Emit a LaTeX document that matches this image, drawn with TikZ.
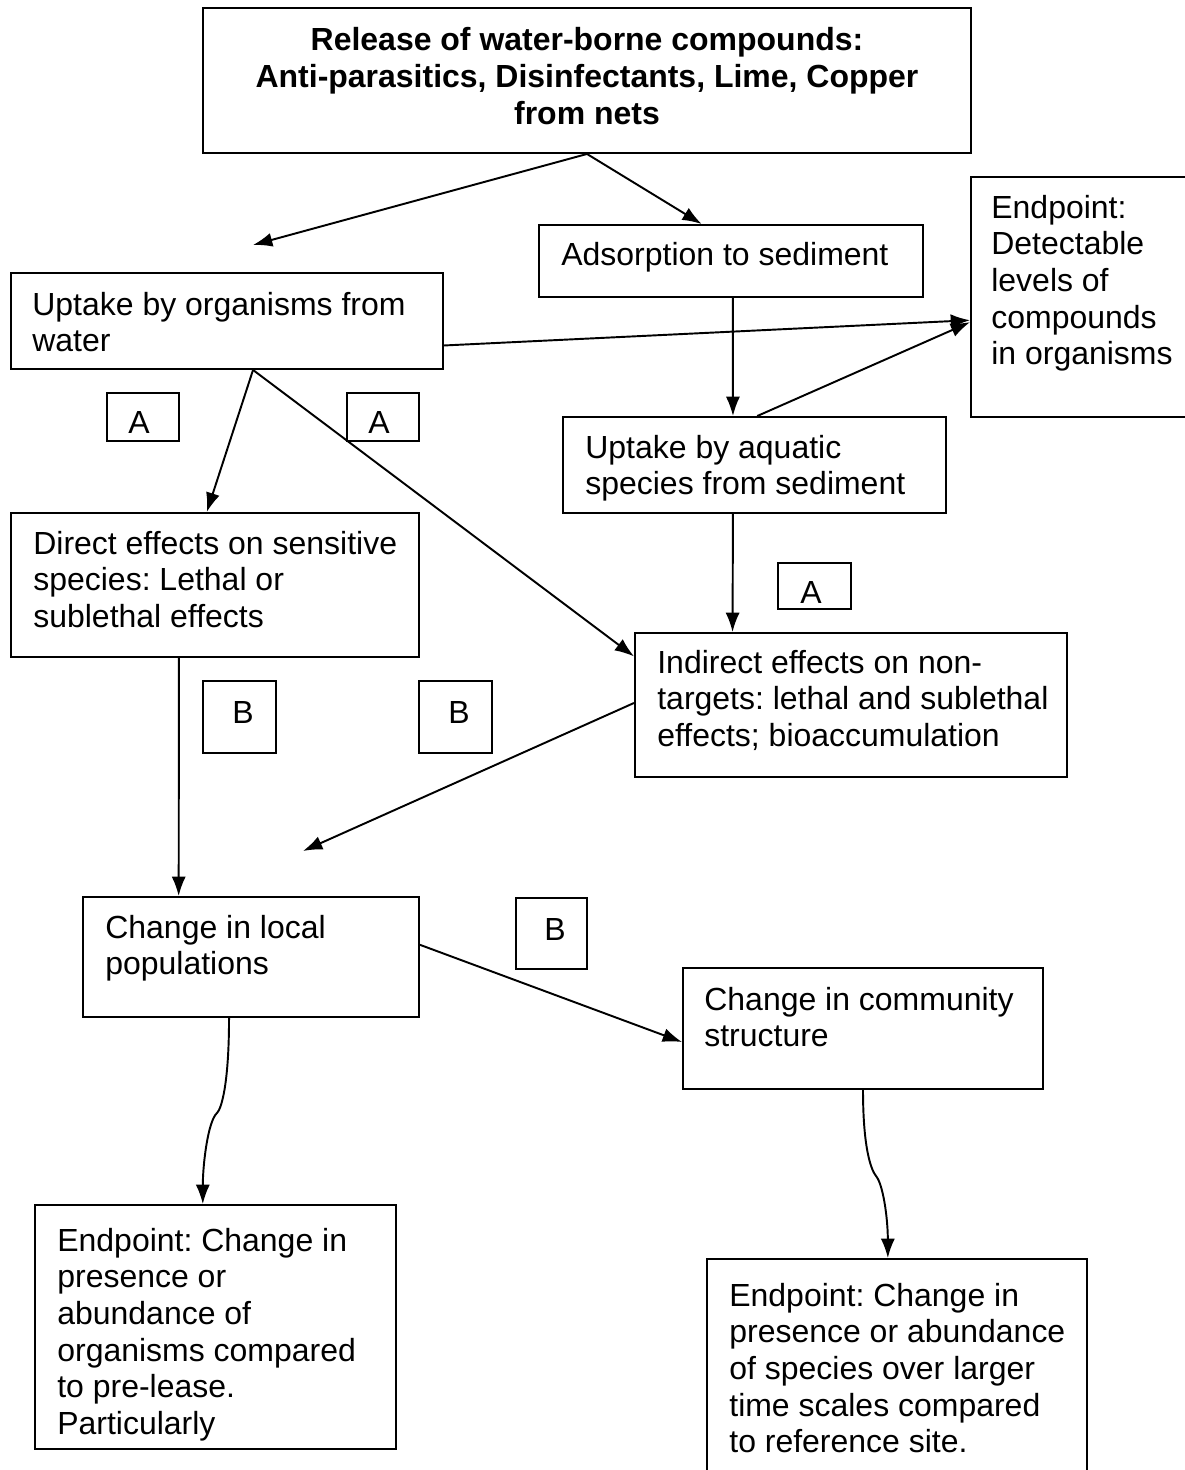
\documentclass[tikz,border=0pt]{standalone}
\usepackage{fontspec}
\setmainfont{Liberation Sans}
\usetikzlibrary{fit,calc,arrows.meta}
\frenchspacing
\newcommand{\lns}[1]{\begin{tabular}[t]{@{}l@{}}#1\end{tabular}}
\newcommand{\clns}[1]{\begin{tabular}[t]{@{}c@{}}#1\end{tabular}}
\begin{document}
\frenchspacing
\begin{tikzpicture}[x=0.02cm,y=-0.02cm,
  box/.style={draw, line width=1.1pt, inner sep=0pt, fit={#1}},
  txt/.style={anchor=base west, inner sep=0pt, font=\fontsize{18.2pt}{20.9pt}\selectfont},
  ctxt/.style={anchor=base, inner sep=0pt, font=\fontsize{18.2pt}{20.9pt}\selectfont\bfseries},
  lbl/.style={anchor=base, inner sep=0pt, font=\fontsize{18.2pt}{20.9pt}\selectfont},
  arr/.style={line width=1.1pt, -{Latex[length=11pt,width=8pt]}},
  line/.style={line width=1.1pt}]
\clip (0,0) rectangle (1185,1470);
\fill[white] (0,0) rectangle (1185,1470);

% boxes
\node[box={(203,8) (971,153)}] (title) {};
\node[box={(539,225) (923,297)}] (ads) {};
\node[box={(971,177) (1200,417)}] (epd) {};
\node[box={(11,273) (443,369)}] (uw) {};
\node[box={(107,393) (179,441)}] (a1) {};
\node[box={(347,393) (419,441)}] (a2) {};
\node[box={(563,417) (946,513)}] (aq) {};
\node[box={(11,513) (419,657)}] (de) {};
\node[box={(778,563) (851,609)}] (a3) {};
\node[box={(635,633) (1067,777)}] (ie) {};
\node[box={(203,681) (276,753)}] (b1) {};
\node[box={(419,681) (492,753)}] (b2) {};
\node[box={(83,897) (419,1017)}] (cl) {};
\node[box={(516,898) (587,969)}] (b3) {};
\node[box={(683,968) (1043,1089)}] (cc) {};
\node[box={(35,1205) (396,1449)}] (el) {};
\node[box={(707,1259) (1087,1500)}] (er) {};

% texts
\node[ctxt] (titlet) at (587,51) {\clns{Release of water-borne compounds:\\Anti-parasitics, Disinfectants, Lime, Copper\\from nets}};
\node[txt] (adst) at (561,265) {Adsorption to sediment};
\node[txt] (epdt) at (991,218) {\lns{Endpoint:\\Detectable\\levels of\\compounds\\in organisms}};
\node[txt] (uwt) at (32,315) {\lns{Uptake by organisms from\\water}};
\node[lbl] (a1t) at (139,433) {A};
\node[lbl] (a2t) at (379,433) {A};
\node[txt] (aqt) at (585,458) {\lns{Uptake by aquatic\\species from sediment}};
\node[txt] (det) at (33,554) {\lns{Direct effects on sensitive\\species: Lethal or\\sublethal effects}};
\node[lbl] (a3t) at (811,603) {A};
\node[txt] (iet) at (657,673) {\lns{Indirect effects on non-\\targets: lethal and sublethal\\effects; bioaccumulation}};
\node[lbl] (b1t) at (243,723) {B};
\node[lbl] (b2t) at (459,723) {B};
\node[txt] (clt) at (105,938) {\lns{Change in local\\populations}};
\node[lbl] (b3t) at (555,940) {B};
\node[txt] (cct) at (704,1010) {\lns{Change in community\\structure}};
\node[txt] (elt) at (57,1251) {\lns{Endpoint: Change in\\presence or\\abundance of\\organisms compared\\to pre-lease.\\Particularly}};
\node[txt] (ert) at (729,1306) {\lns{Endpoint: Change in\\presence or abundance\\of species over larger\\time scales compared\\to reference site.}};

% free ends and kinks
\coordinate (f1) at (253,245);
\coordinate (f2) at (303,851);
\coordinate (k1) at (217,1113);
\coordinate (k2) at (876,1176);

% connectors
\draw[arr] (title.south) -- (f1);
\draw[arr] (title.south) -- ($(ads.north west)!0.424!(ads.north east)$);
\draw[arr] ($(uw.north east)!0.75!(uw.south east)$) -- ($(epd.north west)!0.596!(epd.south west)$);
\draw[arr] ($(aq.north west)!0.507!(aq.north east)$) -- ($(epd.north west)!0.604!(epd.south west)$);
\draw[arr] ($(ads.south west)!0.505!(ads.south east)$) -- ($(aq.north west)!0.444!(aq.north east)$);
\draw[arr] ($(uw.south west)!0.56!(uw.south east)$) -- ($(de.north west)!0.48!(de.north east)$);
\draw[arr] ($(uw.south west)!0.56!(uw.south east)$) -- ($(ie.north west)!0.167!(ie.south west)$);
\draw[arr] ($(aq.south west)!0.444!(aq.south east)$) -- ($(ie.north west)!0.227!(ie.north east)$);
\draw[arr] ($(ie.north west)!0.486!(ie.south west)$) -- (f2);
\draw[arr] ($(de.south west)!0.412!(de.south east)$) -- ($(cl.north west)!0.286!(cl.north east)$);
\draw[arr] ($(cl.north east)!0.4!(cl.south east)$) -- ($(cc.north west)!0.61!(cc.south west)$);
\draw[arr] ($(cl.south west)!0.435!(cl.south east)$) .. controls +(0,63) and +(5,-5) .. (k1)
   .. controls +(-9,8) and +(0,-40) .. ($(el.north west)!0.465!(el.north east)$);
\draw[arr] ($(cc.south west)!0.5!(cc.south east)$) .. controls +(0,62) and +(-4,-5) .. (k2)
   .. controls +(7,8) and +(0,-40) .. ($(er.north west)!0.476!(er.north east)$);
\end{tikzpicture}
\end{document}
